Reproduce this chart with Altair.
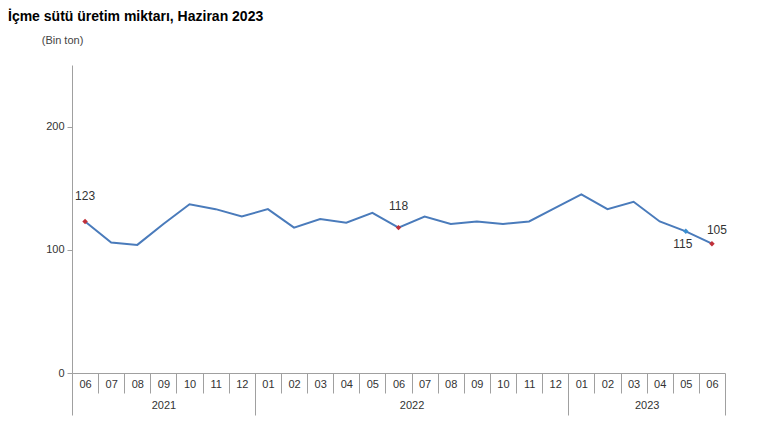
import altair as alt
import pandas as pd

months = ["06","07","08","09","10","11","12",
          "01","02","03","04","05","06","07","08","09","10","11","12",
          "01","02","03","04","05","06"]
values = [123,106,104,121,137,133,127,
          133,118,125,122,130,118,127,121,123,121,123,134,
          145,133,139,123,115,105]
years = ["2021","2022","2023"]
year_start = [0, 7, 19]
year_end = [7, 19, 25]

highlight_idx = [0, 12, 23, 24]
highlight_color = ["#c0303a", "#c0303a", "#3a8fd0", "#c0303a"]
label_idx = [0, 12, 23, 24]
label_text = ["123", "118", "115", "105"]
label_dx = [0, 0, -3, 5]
label_dy = [-25, -22, 13, -14]

df = pd.DataFrame({"pos": [i + 0.5 for i in range(len(values))],
                   "month": months, "value": values})

hl = pd.DataFrame({"pos": [i + 0.5 for i in highlight_idx],
                   "value": [values[i] for i in highlight_idx],
                   "color": highlight_color})

FONT = "Liberation Sans"
AX = "#a0a0a0"

xscale = alt.Scale(domain=[0, len(values)], nice=False, zero=False)
yscale = alt.Scale(domain=[0, 250], nice=False)

month_lbl_expr = "[" + ",".join("'%s'" % m for m in months) + "][floor(datum.value)]"
year_mid = [(a + b) / 2 for a, b in zip(year_start, year_end)]
year_lbl_expr = ""
for e, y in zip(year_end[:-1], years[:-1]):
    year_lbl_expr += "datum.value < %d ? '%s' : " % (e, y)
year_lbl_expr += "'%s'" % years[-1]

month_axis = alt.Axis(orient="bottom", values=[i + 0.5 for i in range(len(values))],
                      labelExpr=month_lbl_expr,
                      ticks=False, domain=True, domainColor=AX, grid=False, title=None,
                      labelFont=FONT, labelFontSize=11, labelColor="#333333", labelPadding=5,
                      labelAngle=0)

yaxis = alt.Axis(values=[0, 100, 200], grid=False, domainColor=AX, tickColor=AX,
                 tickSize=5, labelFont=FONT, labelFontSize=11, labelColor="#333333",
                 labelPadding=3, title="(Bin ton)", titleAngle=0, titleFont=FONT,
                 titleFontSize=11, titleFontWeight="normal", titleColor="#444444",
                 titleX=-10, titleY=-20, titleAlign="center")

Y = alt.Y("value:Q", scale=yscale, axis=yaxis)

line = alt.Chart(df).mark_line(color="#4a7bbb", strokeWidth=2).encode(
    x=alt.X("pos:Q", scale=xscale, axis=month_axis),
    y=Y,
)

points = alt.Chart(hl).mark_point(shape="diamond", filled=True, size=30, opacity=1).encode(
    x=alt.X("pos:Q", scale=xscale, axis=None),
    y=Y,
    color=alt.Color("color:N", scale=None),
)

label_layers = []
for i, t, dx, dy in zip(label_idx, label_text, label_dx, label_dy):
    ldf = pd.DataFrame({"pos": [i + 0.5], "value": [values[i]], "text": [t]})
    label_layers.append(
        alt.Chart(ldf).mark_text(font=FONT, fontSize=12, color="#333333", dx=dx, dy=dy).encode(
            x=alt.X("pos:Q", scale=xscale, axis=None),
            y=Y,
            text="text:N",
        )
    )

# month divider ticks
month_ticks = alt.Chart(df).mark_point(opacity=0).encode(
    x=alt.X("pos:Q", scale=xscale,
            axis=alt.Axis(orient="bottom",
                          values=[i for i in range(1, len(values)) if i not in year_start],
                          labels=False, domain=False, grid=False, ticks=True,
                          tickSize=20, tickColor=AX, title=None)),
    y=Y,
)

# year boundaries
year_ticks = alt.Chart(df).mark_point(opacity=0).encode(
    x=alt.X("pos:Q", scale=xscale,
            axis=alt.Axis(orient="bottom", values=year_start + [len(values)], labels=False,
                          domain=False, grid=False, ticks=True, tickSize=42, tickColor=AX,
                          title=None)),
    y=Y,
)

# year labels
year_labels = alt.Chart(df).mark_point(opacity=0).encode(
    x=alt.X("pos:Q", scale=xscale,
            axis=alt.Axis(orient="bottom", values=year_mid, labelExpr=year_lbl_expr,
                          ticks=False, domain=False, grid=False, labelPadding=26,
                          labelFont=FONT, labelFontSize=11, labelColor="#333333",
                          labelOverlap=False, title=None, labelAngle=0)),
    y=Y,
)

chart = alt.layer(line, month_ticks, year_ticks, year_labels, points, *label_layers).resolve_axis(
    x="independent"
).properties(
    width=653, height=308,
    padding={"left": 64, "top": 57, "right": 25, "bottom": 55},
    autosize=alt.AutoSizeParams(type="none"),
    title=alt.TitleParams("İçme sütü üretim miktarı, Haziran 2023", anchor="start",
                          frame="group", font=FONT, fontSize=14, fontWeight="bold",
                          color="#000000", dx=-64, offset=10),
).configure_view(stroke=None)

chart.save("out.html", embed_options={"renderer": "svg", "actions": False})
